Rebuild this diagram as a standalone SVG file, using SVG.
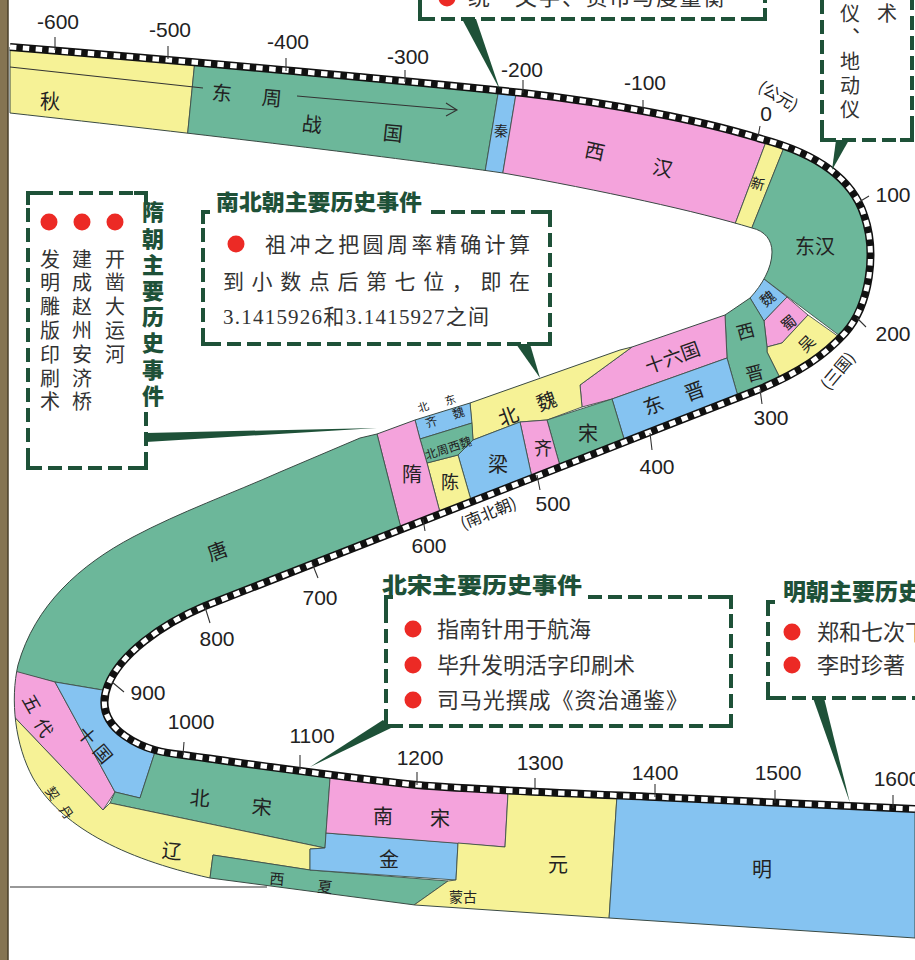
<svg xmlns="http://www.w3.org/2000/svg" width="915" height="960" viewBox="0 0 915 960">
<defs>
<style>
.g{fill:#6cb79a}.y{fill:#f6f296}.p{fill:#f4a3dc}.b{fill:#85c3f1}
.reg path{stroke:#40504a;stroke-width:0.9}
.lbl{font-family:'Noto Sans CJK SC','Noto Sans CJK JP',sans-serif;fill:#222;text-anchor:middle;dominant-baseline:central;font-size:20px}
.vt{font-family:'Noto Sans CJK SC',sans-serif;fill:#333;font-size:20px;writing-mode:vertical-rl;text-anchor:start;dominant-baseline:central}
.num{font-family:'Liberation Sans',Arial,sans-serif;font-size:21px;fill:#222;text-anchor:middle}
.tick{stroke:#333;stroke-width:1.1;fill:none}
.box{fill:none;stroke:#1e5138;stroke-width:4;stroke-dasharray:14 6}
.corner{fill:none;stroke:#1e5138;stroke-width:4}
.title{font-family:'Noto Sans CJK SC',sans-serif;font-weight:900;fill:#1e5138;font-size:22px}
.ev{font-family:'Noto Sans CJK SC',sans-serif;font-size:21px;fill:#333}
.dot{fill:#ec2a25}
.wedge{fill:#1e5138}
</style>
<clipPath id="band">
<path id="bandpath" d="M10,47 C200,62 420,82 523,93 C610,103 700,120 758,138 C805,150 850,172 864,215 C877,252 870,305 845,333 C825,355 800,372 760,389 L205,606 C160,625 120,655 108,685 C100,705 105,722 125,736 C145,750 165,753 183,755 C250,764 330,776 417,785 C480,790 560,793 655,797 C760,802 850,806 915,809 L915,938 L609,918 L415,905 L210,878 C120,858 60,825 33,778 C15,745 10,700 18,665 C35,605 80,565 133,537 C180,512 233,493 280,472 L360,438 L377,434 L415,420 L470,403 L620,350 L632,347 L725,315 L750,298 C762,285 772,268 772,252 C772,240 765,231 752,228 C700,212 600,190 503,173 C400,158 200,134 10,113 Z"/>
</clipPath>
</defs>
<rect width="915" height="960" fill="#ffffff"/>

<g id="band-regions" class="reg" clip-path="url(#band)">
<path class="y" d="M0,30 L197,40 L186,150 L0,150 Z"/>
<path class="g" d="M197,40 L502,70 L482,190 L186,150 Z"/>
<path class="b" d="M502,70 L520,70 L500,190 L482,190 Z"/>
<path class="p" d="M520,70 L778,110 L729,240 L500,190 Z"/>
<path class="y" d="M778,110 L799,110 L747,240 L729,240 Z"/>
<path class="g" d="M799,110 L930,110 L930,380 L880,366 L740,261 L747,240 Z"/>
<path class="b" d="M755,272 L787,297 L764,321 L744,288 Z"/>
<path class="p" d="M787,297 L808,315 L782,343 L767,347 L764,321 Z"/>
<path class="y" d="M808,315 L880,366 L800,410 L788,394 L767,352 L767,347 L782,343 Z"/>
<path class="g" d="M724,290 L744,288 L764,321 L767,347 L767,352 L788,394 L741,412 L737,393 L727,358 L725,315 Z"/>
<path class="p" d="M620,320 L725,290 L725,315 L727,358 L612,399 L582,407 L580,385 L632,347 Z"/>
<path class="b" d="M612,399 L727,358 L737,393 L741,412 L628,452 Z"/>
<path class="y" d="M468,390 L630,330 L632,347 L580,385 L582,407 L547,420 L520,422 L473,440 L470,403 Z"/>
<path class="g" d="M547,420 L612,399 L628,452 L564,480 Z"/>
<path class="p" d="M520,422 L547,420 L564,480 L534,487 Z"/>
<path class="b" d="M458,455 L473,440 L520,422 L534,487 L473,507 Z"/>
<path class="y" d="M427,463 L458,455 L473,507 L442,520 Z"/>
<path class="b" d="M412,410 L468,390 L470,403 L472,423 L420,439 L415,420 Z"/>
<path class="g" d="M420,439 L472,423 L473,440 L458,455 L427,463 Z"/>
<path class="p" d="M372,420 L412,410 L415,420 L420,439 L427,463 L442,520 L404,540 L377,434 Z"/>
<path class="g" d="M370,400 L377,434 L404,540 L103,690 L55,682 L0,668 L0,400 Z"/>
<path class="p" d="M0,667 L55,682 L115,792 L103,810 L0,702 Z"/>
<path class="b" d="M55,682 L120,693 L162,737 L155,752 L140,798 L115,792 Z"/>
<path class="g" d="M162,737 L331,765 L325,848 L110,803 L115,792 L140,798 L155,752 Z"/>
<path class="y" d="M0,702 L103,810 L110,803 L325,848 L310,849 L310,870 L213,855 L210,878 L205,905 L0,905 Z"/>
<path class="g" d="M213,855 L310,870 L448,881 L400,915 L205,905 L210,878 Z"/>
<path class="b" d="M310,849 L325,848 L326,833 L458,843 L456,880 L310,870 Z"/>
<path class="p" d="M331,765 L509,775 L505,847 L326,833 Z"/>
<path class="y" d="M509,775 L618,780 L608,935 L395,935 L400,915 L448,881 L456,880 L458,843 L505,847 Z"/>
<path class="b" d="M618,780 L930,780 L930,960 L608,935 Z"/>
</g>
<use href="#bandpath" fill="none" stroke="#3a4a44" stroke-width="1"/>

<g id="east-zhou-marker" class="tick">
<path d="M10,67 L203,88"/>
<path d="M297,96 L457,110 M446,103 L457,110 L446,116"/>
</g>

<g id="strip">
<path d="M10,47 C200,62 420,82 523,93 C610,103 700,120 758,138 C805,150 850,172 864,215 C877,252 870,305 845,333 C825,355 800,372 760,389 L205,606 C160,625 120,655 108,685 C100,705 105,722 125,736 C145,750 165,753 183,755 C250,764 330,776 417,785 C480,790 560,793 655,797 C760,802 850,806 915,809" fill="none" stroke="#111" stroke-width="8"/>
<path d="M10,47 C200,62 420,82 523,93 C610,103 700,120 758,138 C805,150 850,172 864,215 C877,252 870,305 845,333 C825,355 800,372 760,389 L205,606 C160,625 120,655 108,685 C100,705 105,722 125,736 C145,750 165,753 183,755 C250,764 330,776 417,785 C480,790 560,793 655,797 C760,802 850,806 915,809" fill="none" stroke="#fff" stroke-width="5" stroke-dasharray="6.5 6.5"/>
</g>

<g id="ticks" class="tick">
<path d="M55,37 V50 M168,46 V59 M286,58 V71 M405,70 V82 M523,80 V93 M643,100 V112 M760,126 L758,137 M859,202 L869,196 M857,318 L866,327 M760,389 L762,404 M650,433 L652,450 M537,475 L540,490 M423,519 L425,531 M312,563 L318,578 M205,607 L210,623 M112,682 L124,692 M183,755 L184,742 M300,770 V755 M417,785 V772 M535,790 V778 M655,797 V784 M775,803 V790 M893,808 V795"/>
</g>

<g id="tick-labels" class="num">
<text x="58" y="29">-600</text>
<text x="170" y="37">-500</text>
<text x="288" y="49">-400</text>
<text x="408" y="64">-300</text>
<text x="522" y="77">-200</text>
<text x="645" y="90">-100</text>
<text x="766" y="121">0</text>
<text x="893" y="202">100</text>
<text x="893" y="341">200</text>
<text x="771" y="425">300</text>
<text x="657" y="474">400</text>
<text x="553" y="511">500</text>
<text x="429" y="553">600</text>
<text x="320" y="605">700</text>
<text x="217" y="646">800</text>
<text x="148" y="700">900</text>
<text x="191" y="729">1000</text>
<text x="312" y="743">1100</text>
<text x="420" y="765">1200</text>
<text x="540" y="770">1300</text>
<text x="655" y="780">1400</text>
<text x="778" y="780">1500</text>
<text x="897" y="786">1600</text>
</g>
<g id="era-notes" class="lbl" style="font-size:16px">
<text x="779" y="95" transform="rotate(30 779 95)">(公元)</text>
<text x="837" y="370" transform="rotate(-50 837 370)">(三国)</text>
<text x="488" y="512" transform="rotate(-22 488 512)">(南北朝)</text>
</g>

<g id="dynasty-labels" class="lbl">
<text x="50" y="100">秋</text>
<text x="222" y="92" transform="rotate(5 222 92)">东</text>
<text x="272" y="97" transform="rotate(5 272 97)">周</text>
<text x="312" y="123" transform="rotate(6 312 123)">战</text>
<text x="393" y="132" transform="rotate(6 393 132)">国</text>
<text x="501" y="130" style="font-size:14px">秦</text>
<text x="595" y="150" transform="rotate(12 595 150)">西</text>
<text x="663" y="167" transform="rotate(12 663 167)">汉</text>
<text x="758" y="183" style="font-size:14px" transform="rotate(15 758 183)">新</text>
<text x="815" y="245">东汉</text>
<text x="767" y="298" style="font-size:15px" transform="rotate(-40 767 298)">魏</text>
<text x="788" y="322" style="font-size:15px" transform="rotate(-40 788 322)">蜀</text>
<text x="806" y="343" style="font-size:16px" transform="rotate(-45 806 343)">吴</text>
<text x="745" y="330" style="font-size:18px" transform="rotate(-15 745 330)">西</text>
<text x="754" y="372" style="font-size:18px" transform="rotate(-15 754 372)">晋</text>
<text x="672" y="356" style="font-size:19px" transform="rotate(-20 672 356)">十六国</text>
<text x="653" y="404" transform="rotate(-20 653 404)">东</text>
<text x="694" y="390" transform="rotate(-20 694 390)">晋</text>
<text x="588" y="432">宋</text>
<text x="508" y="415" transform="rotate(-20 508 415)">北</text>
<text x="546" y="400" transform="rotate(-20 546 400)">魏</text>
<text x="543" y="447" style="font-size:18px">齐</text>
<text x="498" y="463">梁</text>
<text x="450" y="481" style="font-size:18px">陈</text>
<text x="412" y="473">隋</text>
<text x="431" y="421" style="font-size:12px" transform="rotate(-18 431 421)">齐</text>
<text x="458" y="412" style="font-size:12px" transform="rotate(-18 458 412)">魏</text>
<text x="448" y="447" style="font-size:12px" transform="rotate(-18 448 447)">北周西魏</text>
<text x="423" y="406" style="font-size:11px" transform="rotate(-18 423 406)">北</text>
<text x="450" y="399" style="font-size:11px" transform="rotate(-18 450 399)">东</text>
<text x="217" y="550" transform="rotate(-20 217 550)">唐</text>
<text x="33" y="703" style="font-size:18px" transform="rotate(60 33 703)">五</text>
<text x="45" y="727" style="font-size:18px" transform="rotate(60 45 727)">代</text>
<text x="88" y="735" style="font-size:18px" transform="rotate(50 88 735)">十</text>
<text x="104" y="753" style="font-size:18px" transform="rotate(50 104 753)">国</text>
<text x="53" y="793" style="font-size:13px" transform="rotate(55 53 793)">契</text>
<text x="67" y="812" style="font-size:13px" transform="rotate(55 67 812)">丹</text>
<text x="200" y="797" transform="rotate(5 200 797)">北</text>
<text x="262" y="806" transform="rotate(5 262 806)">宋</text>
<text x="172" y="850" transform="rotate(5 172 850)">辽</text>
<text x="277" y="878" style="font-size:15px" transform="rotate(5 277 878)">西</text>
<text x="325" y="886" style="font-size:15px" transform="rotate(5 325 886)">夏</text>
<text x="383" y="815">南</text>
<text x="440" y="817">宋</text>
<text x="389" y="858">金</text>
<text x="463" y="896" style="font-size:14px">蒙古</text>
<text x="558" y="863">元</text>
<text x="762" y="868">明</text>
</g>

<g id="box-qin">
<path class="box" d="M420,0 V19 H765 V0"/>
<path class="corner" d="M420,8 V19 H432 M753,19 H765 V8"/>
<circle class="dot" cx="447" cy="-2" r="8.5"/>
<text class="ev" x="468" y="5" style="font-size:22px" textLength="257" lengthAdjust="spacing">统一文字、货币与度量衡</text>
<path class="wedge" d="M462,19 L476,19 L500,90 Z"/>
</g>

<g id="box-hanscience">
<path class="box" d="M822,0 V140 H912 V0"/>
<path class="corner" d="M822,128 V140 H834 M900,140 H912 V128"/>
<text class="vt" x="850" y="3" style="letter-spacing:4px">仪、地动仪</text>
<text class="vt" x="887" y="3">术</text>
<path class="wedge" d="M836,140 L849,140 L832,170 Z"/>
</g>

<g id="box-sui">
<path class="box" d="M146,412 V468 H28 V193 H146"/>
<path class="corner" d="M28,205 V193 H40 M134,193 H146 V203 M28,456 V468 H40 M134,468 H146 V456"/>
<path class="wedge" d="M146,433 L146,442 L377,428 Z"/>
<text class="title vt" x="153" y="201" style="fill:#1e5138;font-size:22px;letter-spacing:4.2px">隋朝主要历史事件</text>
<circle class="dot" cx="49" cy="222" r="8.5"/>
<circle class="dot" cx="82" cy="222" r="8.5"/>
<circle class="dot" cx="115" cy="222" r="8.5"/>
<text class="vt" x="115" y="249" style="letter-spacing:3.8px">开凿大运河</text>
<text class="vt" x="82" y="249" style="letter-spacing:3.8px">建成赵州安济桥</text>
<text class="vt" x="50" y="249" style="letter-spacing:3.8px">发明雕版印刷术</text>
</g>

<g id="box-nanbeichao">
<text class="title" x="216" y="210" textLength="206" lengthAdjust="spacingAndGlyphs">南北朝主要历史事件</text>
<path class="box" d="M431,212 H550 V344 H203 V212"/>
<path class="corner" d="M203,224 V212 H210 M538,212 H550 V224 M203,332 V344 H215 M538,344 H550 V332"/>
<circle class="dot" cx="236" cy="244" r="8.5"/>
<text class="ev" x="265" y="252" textLength="265" lengthAdjust="spacing">祖冲之把圆周率精确计算</text>
<text class="ev" x="223" y="289" textLength="307" lengthAdjust="spacing">到小数点后第七位，即在</text>
<text class="ev" x="223" y="324" style="font-family:'Liberation Serif','Noto Sans CJK SC',serif" textLength="266" lengthAdjust="spacing">3.1415926和3.1415927之间</text>
<path class="wedge" d="M516,344 L530,344 L540,378 Z"/>
</g>

<g id="box-beisong">
<text class="title" x="382" y="593" textLength="200" lengthAdjust="spacingAndGlyphs">北宋主要历史事件</text>
<path class="box" d="M588,597 H731 V726 H386 V597"/>
<path class="corner" d="M386,609 V597 H393 M719,597 H731 V609 M386,714 V726 H398 M719,726 H731 V714"/>
<circle class="dot" cx="413" cy="629" r="8.5"/>
<circle class="dot" cx="413" cy="665" r="8.5"/>
<circle class="dot" cx="413" cy="700" r="8.5"/>
<text class="ev" x="437" y="637" style="font-size:22px">指南针用于航海</text>
<text class="ev" x="437" y="673" style="font-size:22px">毕升发明活字印刷术</text>
<text class="ev" x="437" y="708" style="font-size:22px" textLength="251" lengthAdjust="spacing">司马光撰成《资治通鉴》</text>
<path class="wedge" d="M383,720 L391,728 L310,767 Z"/>
</g>

<g id="box-ming">
<text class="title" x="783" y="600" style="font-size:23px">明朝主要历史</text>
<path class="box" d="M768,602 V698 H915"/>
<path class="corner" d="M768,614 V602 H775 M768,686 V698 H780"/>
<circle class="dot" cx="792" cy="632" r="8.5"/>
<circle class="dot" cx="792" cy="665" r="8.5"/>
<text class="ev" x="817" y="640" style="font-size:22px">郑和七次下</text>
<text class="ev" x="817" y="673" style="font-size:22px">李时珍著《</text>
<path class="wedge" d="M813,698 L824,698 L850,803 Z"/>
</g>

<path id="page-line" d="M10,887 H267" stroke="#333" stroke-width="1.2"/>
<g id="binding">
<rect x="0" y="0" width="8" height="960" fill="#857452"/>
<path d="M8,0 V960" stroke="#4a3f2a" stroke-width="1.5"/>
</g>
</svg>
